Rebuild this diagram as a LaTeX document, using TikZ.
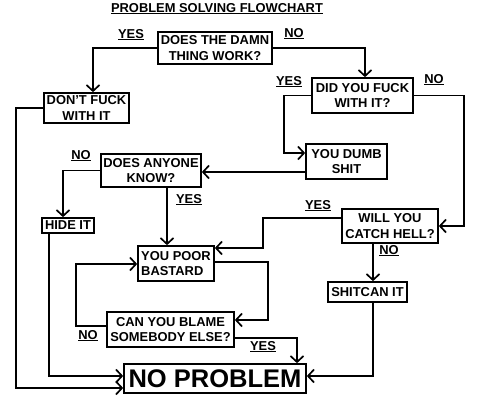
\documentclass[tikz,border=0pt]{standalone}
\usepackage{fontspec}
\setmainfont{Liberation Sans}
\usetikzlibrary{arrows.meta}
\begin{document}
\begin{tikzpicture}[x=1pt,y=-1pt,
  box/.style={draw, line width=1.7pt, inner sep=0pt, align=center,
    font=\bfseries\fontsize{12.9}{15.5}\selectfont},
  lbl/.style={inner sep=0pt, anchor=base, font=\bfseries\fontsize{12.9}{15}\selectfont},
  arr/.style={line width=1.7pt, -{Straight Barb[length=6pt,width=13pt,line width=1.7pt]}},
  ln/.style={line width=1.7pt}]
\useasboundingbox (0,0) rectangle (480,402);
\fill[white] (0,0) rectangle (480,402);

\node[lbl] (title) at (217,12) {\underline{PROBLEM SOLVING FLOWCHART}};

\node[box, minimum width=114pt, minimum height=32pt] (q1) at (215,48) {DOES THE DAMN\\THING WORK?};
\node[box, minimum width=85pt, minimum height=30pt] (dont) at (86.5,108) {DON'T FUCK\\WITH IT};
\node[box, minimum width=101pt, minimum height=35pt] (q2) at (362.5,95.5) {DID YOU FUCK\\WITH IT?};
\node[box, minimum width=81pt, minimum height=35pt] (dumb) at (346.5,161.5) {YOU DUMB\\SHIT};
\node[box, minimum width=100pt, minimum height=33pt] (q3) at (151,170.5) {DOES ANYONE\\KNOW?};
\node[box, minimum width=52pt, minimum height=15pt] (hide) at (68,225.5) {HIDE IT};
\node[box, minimum width=96pt, minimum height=34pt] (q4) at (390,226) {WILL YOU\\CATCH HELL?};
\node[box, minimum width=76pt, minimum height=35pt, align=left] (poor) at (176,263.5) {YOU POOR\\BASTARD};
\node[box, minimum width=79pt, minimum height=20pt] (shit) at (367.5,292) {SHITCAN IT};
\node[box, minimum width=127pt, minimum height=35pt] (q5) at (170.5,329.5) {CAN YOU BLAME\\SOMEBODY ELSE?};
\node[box, minimum width=182pt, minimum height=29pt, font=\bfseries\fontsize{25.5}{28}\selectfont] (np) at (215,378.5) {NO PROBLEM};

\node[lbl] (y1) at (131,38) {\underline{YES}};
\node[lbl] (n1) at (294,37) {\underline{NO}};
\node[lbl] (y2) at (289,85) {\underline{YES}};
\node[lbl] (n2) at (434,83) {\underline{NO}};
\node[lbl] (n3) at (81,159) {\underline{NO}};
\node[lbl] (y3) at (189,203) {\underline{YES}};
\node[lbl] (y4) at (318,209) {\underline{YES}};
\node[lbl] (n4) at (389,254) {\underline{NO}};
\node[lbl] (n5) at (88,339) {\underline{NO}};
\node[lbl] (y5) at (263,350) {\underline{YES}};

\draw[arr] (q1.west) -| ([xshift=6.5pt]dont.north);
\draw[arr] (q1.east) -| ([xshift=2.5pt]q2.north);
\draw[arr] (q2.west) -| ([xshift=-21pt,yshift=8.5pt]dumb.west) -- ([yshift=8.5pt]dumb.west);
\draw[arr] (q2.east) -| ([xshift=25pt]q4.east) -- (q4.east);
\draw[arr] ([yshift=-10.5pt]dumb.west) -- ([yshift=-10.5pt]dumb.west -| q3.east);
\draw[arr] (q3.west) -| ([xshift=-5pt]hide.north);
\draw[arr] ([xshift=16pt]q3.south) -- ([xshift=16pt]q3.south |- poor.north);
\draw[arr] ([yshift=8pt]q4.west) -| ([xshift=48pt,yshift=15.5pt]poor.east) -- ([yshift=15.5pt]poor.east);
\draw[arr] ([xshift=-17pt]q4.south) -- ([xshift=-17pt]q4.south |- shit.north);
\draw[arr] ([yshift=1.5pt]poor.east) -| ([xshift=33pt,yshift=9.5pt]q5.east) -- ([yshift=9.5pt]q5.east);
\draw[arr] ([yshift=3.5pt]q5.west) -| ([xshift=-61pt,yshift=-0.5pt]poor.west) -- ([yshift=-0.5pt]poor.west);
\draw[arr] ([yshift=-8.5pt]q5.east) -| ([xshift=82pt]np.north);
\draw[arr] ([xshift=5.5pt]shit.south) |- ([yshift=2.5pt]np.east);
\draw[arr] ([xshift=-19pt]hide.south) |- ([yshift=2.5pt]np.west);
\draw[arr] (dont.west) -| ([xshift=-107pt,yshift=-9.5pt]np.west) -- ([yshift=-9.5pt]np.west);
\end{tikzpicture}
\end{document}
